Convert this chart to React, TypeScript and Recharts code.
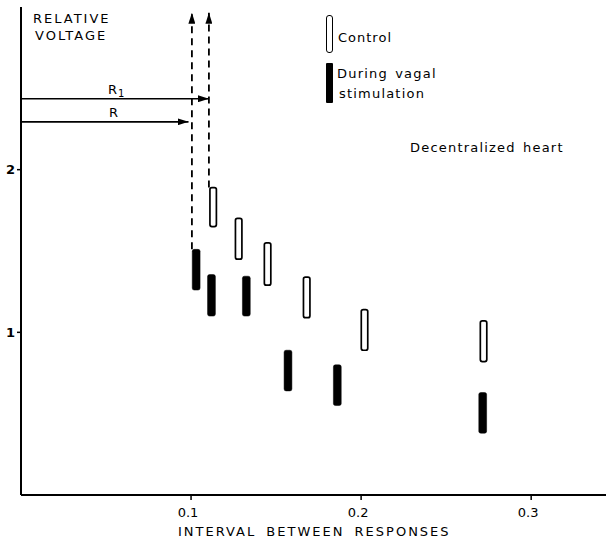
import { ComposedChart, ReferenceArea, ReferenceLine, Scatter, XAxis, YAxis } from "recharts"

// interval between responses (s) and relative voltage ranges
const controlX = [0.113, 0.128, 0.145, 0.168, 0.202, 0.272]
const controlLow = [1.65, 1.45, 1.29, 1.09, 0.89, 0.82]
const controlHigh = [1.89, 1.7, 1.55, 1.34, 1.14, 1.07]

const vagalX = [0.103, 0.112, 0.1325, 0.157, 0.186, 0.2715]
const vagalLow = [1.26, 1.1, 1.1, 0.64, 0.55, 0.38]
const vagalHigh = [1.51, 1.355, 1.345, 0.89, 0.8, 0.63]

const xTicks = [0.1, 0.2, 0.3]
const yTicks = [1, 2]

// refractory markers R and R1
const rX = 0.0985
const rY = 2.294
const r1X = 0.1105
const r1Y = 2.436
const dashTop = 2.965

const controlRows = controlX.map((x, i) => ({ x, low: controlLow[i], high: controlHigh[i], mid: (controlLow[i] + controlHigh[i]) / 2 }))
const vagalRows = vagalX.map((x, i) => ({ x, low: vagalLow[i], high: vagalHigh[i], mid: (vagalLow[i] + vagalHigh[i]) / 2 }))

const font = "'DejaVu Sans', sans-serif"
const W = 606
const H = 547

const roundRect = (r: number) => (p: any) => (
  <rect x={p.x} y={p.y} width={p.width} height={p.height} rx={r} fill={p.fill} stroke={p.stroke} strokeWidth={p.strokeWidth} />
)

function Txt({ x, y, size = 13, spacing = 1, word = 0, children }: any) {
  return (
    <div
      style={{
        position: "absolute",
        left: x,
        top: y,
        fontFamily: font,
        fontSize: size,
        letterSpacing: spacing,
        wordSpacing: word,
        lineHeight: 1,
        whiteSpace: "nowrap",
        color: "#000",
      }}
    >
      {children}
    </div>
  )
}

export default function App() {
  return (
    <div style={{ position: "absolute", left: 0, top: 0, width: W, height: H, background: "#fff", overflow: "hidden" }}>
      <svg width={0} height={0} style={{ position: "absolute" }}>
        <defs>
          <marker id="arrow" viewBox="0 0 10 10" refX={10} refY={5} markerWidth={11} markerHeight={7} markerUnits="userSpaceOnUse" orient="auto" preserveAspectRatio="none">
            <path d="M0,0 L10,5 L0,10 z" fill="#000" />
          </marker>
        </defs>
      </svg>

      <ComposedChart width={W} height={H} margin={{ top: 7, right: 0, left: 0, bottom: 22 }}>
        <XAxis
          type="number"
          dataKey="x"
          domain={[0, 0.344]}
          ticks={xTicks}
          allowDataOverflow
          height={30}
          tickFormatter={(v: number) => v.toFixed(1)}
          tick={{ fill: "#000", fontSize: 13, fontFamily: font, dx: -3 }}
          tickSize={5}
          tickMargin={8}
          axisLine={{ stroke: "#000", strokeWidth: 2 }}
          tickLine={{ stroke: "#000", strokeWidth: 1.5 }}
        />
        <YAxis
          type="number"
          domain={[0, 3]}
          ticks={yTicks}
          allowDataOverflow
          width={21}
          tick={{ fill: "#000", fontSize: 13, fontFamily: font, fontWeight: "bold" }}
          tickSize={4}
          tickMargin={2}
          axisLine={{ stroke: "#000", strokeWidth: 2 }}
          tickLine={{ stroke: "#000", strokeWidth: 1.5 }}
        />

        <Scatter data={controlRows} dataKey="mid" fill="none" shape={() => <g />} isAnimationActive={false} />
        <Scatter data={vagalRows} dataKey="mid" fill="none" shape={() => <g />} isAnimationActive={false} />

        {controlRows.map((d, i) => (
          <ReferenceArea
            key={"c" + i}
            x1={d.x - 0.0019}
            x2={d.x + 0.0019}
            y1={d.low}
            y2={d.high}
            fill="#fff"
            fillOpacity={1}
            stroke="#000"
            strokeWidth={1.7}
            shape={roundRect(2)}
          />
        ))}
        {vagalRows.map((d, i) => (
          <ReferenceArea
            key={"v" + i}
            x1={d.x - 0.0023}
            x2={d.x + 0.0023}
            y1={d.low}
            y2={d.high}
            fill="#000"
            fillOpacity={1}
            stroke="#000"
            strokeWidth={0.5}
            shape={roundRect(2)}
          />
        ))}

        <ReferenceLine segment={[{ x: vagalX[0] - 0.0025, y: vagalHigh[0] }, { x: vagalX[0] - 0.0025, y: dashTop }]} stroke="#000" strokeWidth={1.8} strokeDasharray="7 5" markerEnd="url(#arrow)" />
        <ReferenceLine segment={[{ x: controlX[0] - 0.0025, y: controlHigh[0] }, { x: controlX[0] - 0.0025, y: dashTop }]} stroke="#000" strokeWidth={1.8} strokeDasharray="7 5" markerEnd="url(#arrow)" />
        <ReferenceLine segment={[{ x: 0, y: r1Y }, { x: r1X, y: r1Y }]} stroke="#000" strokeWidth={1.6} markerEnd="url(#arrow)" />
        <ReferenceLine segment={[{ x: 0, y: rY }, { x: rX, y: rY }]} stroke="#000" strokeWidth={1.6} markerEnd="url(#arrow)" />
      </ComposedChart>

      <Txt x={33} y={12} spacing={2}>RELATIVE</Txt>
      <Txt x={35} y={29} spacing={2}>VOLTAGE</Txt>

      <Txt x={108} y={83} size={13}>
        R<span style={{ fontSize: 10, verticalAlign: -3 }}>1</span>
      </Txt>
      <Txt x={109} y={106} size={13}>R</Txt>

      <div style={{ position: "absolute", left: 326, top: 15, width: 5, height: 36, border: "1.5px solid #000", borderRadius: 3, background: "#fff" }} />
      <div style={{ position: "absolute", left: 326, top: 63, width: 7, height: 40, background: "#000", borderRadius: 1 }} />
      <Txt x={338} y={31} spacing={1}>Control</Txt>
      <Txt x={337} y={67} spacing={1.2} word={2}>During vagal</Txt>
      <Txt x={339} y={87} spacing={1.2}>stimulation</Txt>
      <Txt x={410} y={141} spacing={1.2} word={2}>Decentralized heart</Txt>

      <Txt x={178} y={525} spacing={2} word={4}>INTERVAL BETWEEN RESPONSES</Txt>
    </div>
  )
}
